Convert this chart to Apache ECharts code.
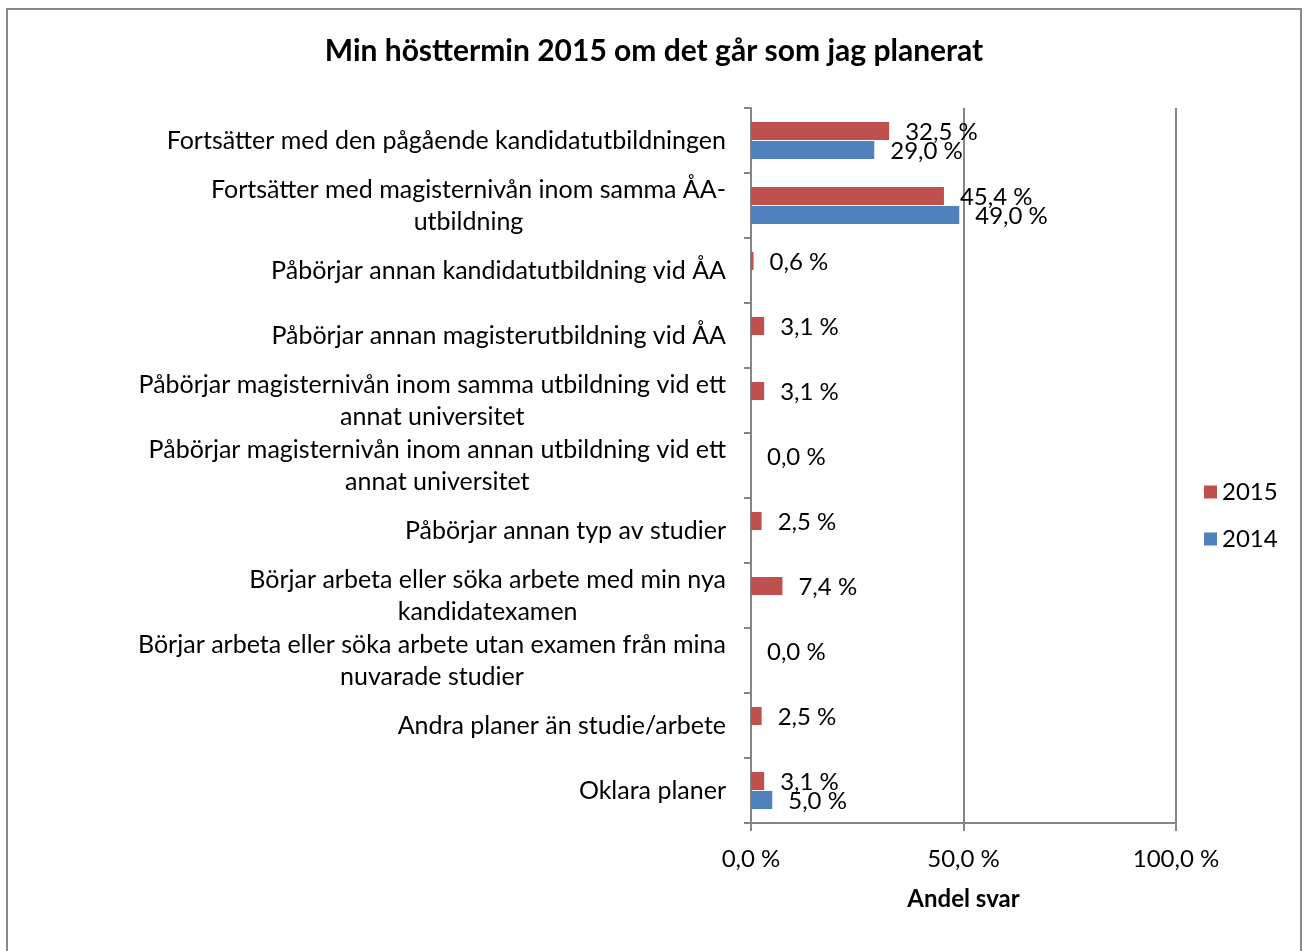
<!DOCTYPE html>
<html>
<head>
<meta charset="utf-8">
<script src="https://cdn.jsdelivr.net/npm/echarts@6/dist/echarts.min.js"></script>
<style>
html,body{margin:0;padding:0;background:#fff;}
#chart{width:1306px;height:951px;}
</style>
</head>
<body>
<div id="chart"></div>
<script>
var categories = [
  "Fortsätter med den pågående kandidatutbildningen",
  "Fortsätter med magisternivån inom samma ÅA-\nutbildning",
  "Påbörjar annan kandidatutbildning vid ÅA",
  "Påbörjar annan magisterutbildning vid ÅA",
  "Påbörjar magisternivån inom samma utbildning vid ett\nannat universitet",
  "Påbörjar magisternivån inom annan utbildning vid ett\nannat universitet",
  "Påbörjar annan typ av studier",
  "Börjar arbeta eller söka arbete med min nya\nkandidatexamen",
  "Börjar arbeta eller söka arbete utan examen från mina\nnuvarade studier",
  "Andra planer än studie/arbete",
  "Oklara planer"
];
var values2015 = [32.5, 45.4, 0.6, 3.1, 3.1, 0.0, 2.5, 7.4, 0.0, 2.5, 3.1];
var values2014 = [29.0, 49.0, '-', '-', '-', '-', '-', '-', '-', '-', 5.0];
var xTicks = [0, 50, 100];

var FONT = 'Lato';
var FS = 24;
var CAT_FS = 25;
function pct(v){ return Number(v).toFixed(1).replace('.', ',') + ' %'; }

var chart = echarts.init(document.getElementById('chart'), null, {renderer:'canvas'});
var labelStyle = {
  show: true, position: 'right', distance: 16, color: '#000',
  fontFamily: FONT, fontSize: FS, offset: [0, 1.5],
  formatter: function(p){ return pct(p.value); }
};
chart.setOption({
  animation: false,
  backgroundColor: '#fff',
  graphic: [{
    type: 'rect', silent: true, z: -1,
    shape: {x: 7, y: 9, width: 1294, height: 1000},
    style: {fill: 'none', stroke: '#888888', lineWidth: 2}
  }],
  title: {
    text: 'Min hösttermin 2015 om det går som jag planerat',
    left: 649, top: 31, textAlign: 'center',
    textStyle: {fontFamily: FONT, fontWeight: 'bold', fontSize: 30, color: '#000'}
  },
  legend: {
    orient: 'vertical', left: 1199, top: 475,
    itemWidth: 13, itemHeight: 13, itemGap: 23,
    icon: 'rect',
    data: ['2015', '2014'],
    textStyle: {fontFamily: FONT, fontSize: FS, color: '#000'}
  },
  grid: {left: 751, right: 130, top: 108, bottom: 128, containLabel: false},
  xAxis: {
    type: 'value', min: xTicks[0], max: xTicks[xTicks.length - 1], interval: xTicks[1] - xTicks[0],
    name: 'Andel svar', nameLocation: 'middle', nameGap: 64,
    nameTextStyle: {fontFamily: FONT, fontWeight: 'bold', fontSize: FS, color: '#000'},
    axisLine: {show: true, lineStyle: {color: '#868686', width: 2}},
    axisTick: {show: true, length: 8, lineStyle: {color: '#868686', width: 2}},
    splitLine: {show: true, lineStyle: {color: '#868686', width: 2}},
    axisLabel: {
      margin: 24, color: '#000', fontFamily: FONT, fontSize: FS,
      formatter: function(v){ return pct(v); }
    }
  },
  yAxis: {
    type: 'category', data: categories, inverse: true,
    axisLine: {show: true, lineStyle: {color: '#868686', width: 2}},
    axisTick: {show: true, length: 7, lineStyle: {color: '#868686', width: 2}},
    axisLabel: {
      margin: 25, color: '#000', fontFamily: FONT, fontSize: CAT_FS, align: 'right',
      formatter: function(v){
        return v.split('\n').map(function(l){ return '{c|' + l + '}'; }).join('\n');
      },
      rich: {c: {align: 'center', fontFamily: FONT, fontSize: CAT_FS, lineHeight: 32, color: '#000'}}
    }
  },
  series: [
    {
      name: '2015', type: 'bar', data: values2015,
      itemStyle: {color: '#C0504D'},
      barGap: '5%', barCategoryGap: '43%',
      label: labelStyle
    },
    {
      name: '2014', type: 'bar', data: values2014,
      itemStyle: {color: '#4F81BD'},
      barGap: '5%', barCategoryGap: '43%',
      label: labelStyle
    }
  ]
});
</script>
</body>
</html>
